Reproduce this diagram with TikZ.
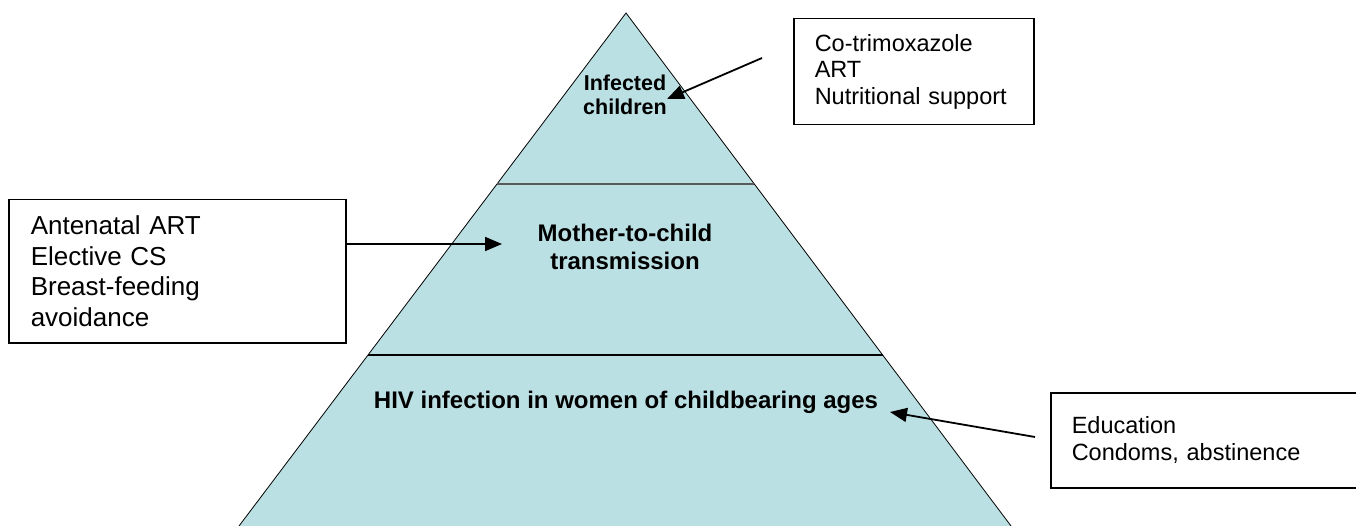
\documentclass[tikz,border=0pt]{standalone}
\usepackage{fontspec}
\setmainfont{Liberation Sans}
\usetikzlibrary{arrows.meta,positioning}
\definecolor{pyr}{RGB}{187,224,228}
\begin{document}
\begin{tikzpicture}[x=1pt,y=-1pt,
box/.style={draw,line width=1.5pt,align=left,anchor=north west,inner xsep=21pt,inner ysep=0pt},
lbl/.style={align=center,inner sep=1pt},
arr/.style={-{Triangle[length=17pt,width=14pt]},line width=1.8pt}]
\useasboundingbox (0,0) rectangle (1356,526);
% pyramid and its levels
\draw[fill=pyr,line width=.8pt] (626,13) -- (1014,530) -- (236,530) -- cycle;
\draw[line width=2pt,black!65] (497,184) -- (754,184);
\draw[line width=2pt] (368,355) -- (883,355);
\node[lbl,font=\bfseries\fontsize{21.5pt}{23.5pt}\selectfont] (inf) at (625,95) {Infected\\children};
\node[lbl,font=\bfseries\fontsize{24pt}{28pt}\selectfont] (mtc) at (625,247) {Mother-to-child\\transmission};
\node[lbl,font=\bfseries\fontsize{24pt}{28pt}\selectfont] (hiv) at (626,402) {HIV infection in women of childbearing ages};
% interventions
\node[box,text width=198pt,minimum height=106pt,font=\fontsize{23.5pt}{26.5pt}\selectfont] (trt) at (793,18) {Co-trimoxazole\\ART\\Nutritional support};
\node[box,text width=293pt,minimum height=143pt,inner xsep=22pt,font=\fontsize{26pt}{30.5pt}\selectfont] (lbox) at (8,199) {Antenatal ART\\Elective CS\\Breast-feeding\\avoidance};
\node[box,text width=266pt,minimum height=95pt,font=\fontsize{23.5pt}{27pt}\selectfont] (edu) at (1050,392) {Education\\Condoms, abstinence};
\coordinate (t1) at (762,58); \coordinate (t2) at (667,99);
\coordinate (m2) at (502,244);
\coordinate (b1) at (1035,437); \coordinate (b2) at (890,412);
\draw[arr] (t1) -- (t2);
\draw[arr] (lbox.east |- m2) -- (m2);
\draw[arr] (b1) -- (b2);
\end{tikzpicture}
\end{document}
